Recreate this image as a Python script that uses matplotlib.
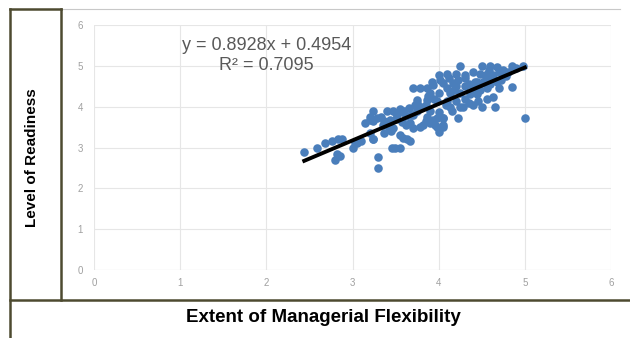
import numpy as np
import matplotlib.pyplot as plt
from matplotlib.lines import Line2D

# Extent of Managerial Flexibility (x) vs Level of Readiness (y)
flex = [2.44, 2.59, 2.68, 2.76, 2.83, 2.88, 2.82, 2.80, 2.86, 3.00, 3.05, 3.10,
        3.24, 3.24, 3.20, 3.30, 3.30, 3.24, 3.40, 3.47, 3.20, 3.28, 3.36, 3.43, 3.50,
        3.59, 3.65, 3.72, 3.03, 3.24, 3.36, 3.47, 3.55, 3.59, 3.46, 3.49, 3.67, 3.70,
        3.63, 3.67, 3.78, 3.55, 3.40, 3.33, 3.52, 3.58, 3.62, 3.45,
        4.00, 4.10, 4.20, 4.30, 4.40, 4.25, 3.70, 3.78, 3.86, 3.93, 4.05, 4.17,
        4.20, 4.30, 4.40, 3.90, 4.00, 4.13, 4.25, 4.36, 4.45, 3.75, 3.86, 3.98,
        4.10, 4.20, 4.30, 3.75, 3.90, 4.00, 4.13, 4.25, 3.86, 3.98, 4.05, 4.22,
        3.82, 3.96, 4.05, 4.00, 3.93, 4.05, 3.98, 4.05, 3.80, 3.85, 3.70, 3.75,
        3.88, 3.95, 4.08, 4.15, 4.35, 4.28, 4.18, 4.10, 3.92, 4.02, 4.12, 4.22,
        4.50, 4.60, 4.68, 4.85, 4.98, 4.75, 4.48, 4.56, 4.63, 4.44, 4.52, 4.60,
        4.68, 4.40, 4.48, 4.56, 4.85, 4.63, 4.56, 4.46, 4.50, 4.65, 5.00, 4.40,
        4.55, 4.70, 4.78, 4.90, 4.62, 4.72, 4.58, 4.42, 4.35, 4.30, 4.70, 4.80,
        3.60, 3.68, 3.75, 3.50, 3.55, 3.62, 3.85, 3.90, 3.35, 3.42, 3.15, 3.20]
ready = [2.90, 3.00, 3.10, 3.15, 3.20, 3.20, 2.85, 2.70, 2.80, 3.00, 3.10, 3.15,
         3.90, 3.65, 3.35, 2.77, 2.50, 3.20, 3.90, 3.90, 3.67, 3.72, 3.65, 3.68, 3.70,
         3.87, 3.97, 4.04, 3.10, 3.20, 3.35, 3.48, 3.30, 3.23, 3.00, 3.00, 3.60, 3.48,
         3.22, 3.17, 3.50, 3.00, 3.55, 3.75, 3.80, 3.62, 3.78, 3.40,
         4.78, 4.80, 4.80, 4.78, 4.85, 5.00, 4.45, 4.45, 4.45, 4.53, 4.58, 4.58,
         4.50, 4.50, 4.50, 4.33, 4.33, 4.33, 4.33, 4.30, 4.30, 4.16, 4.16, 4.15,
         4.15, 4.15, 4.20, 3.90, 3.90, 3.87, 4.00, 4.00, 3.75, 3.72, 3.72, 3.72,
         3.55, 3.55, 3.55, 3.38, 3.67, 3.72, 3.50, 3.50, 4.00, 4.05, 3.80, 4.10,
         4.25, 4.20, 4.05, 3.90, 4.10, 4.00, 4.40, 4.45, 4.60, 4.65, 4.70, 4.65,
         5.00, 5.00, 4.97, 5.00, 5.00, 4.90, 4.80, 4.80, 4.78, 4.60, 4.60, 4.55,
         4.60, 4.35, 4.40, 4.45, 4.48, 4.23, 4.20, 4.15, 4.00, 4.00, 3.72, 4.05,
         4.70, 4.85, 4.75, 4.95, 4.65, 4.65, 4.90, 4.60, 4.55, 4.70, 4.45, 4.85,
         3.90, 3.80, 3.95, 3.85, 3.95, 3.55, 3.65, 3.60, 3.55, 3.50, 3.60, 3.75]

slope, intercept = 0.8928, 0.4954
xticks = [0, 1, 2, 3, 4, 5, 6]
yticks = [0, 1, 2, 3, 4, 5, 6]

plt.rcParams['font.family'] = ['Liberation Sans', 'DejaVu Sans']

fig = plt.figure(figsize=(6.3, 3.38), dpi=100)
ax = fig.add_axes([94/630, 1 - 270/338, 517/630, 245/338])

ax.scatter(flex, ready, s=38, color='#4a7ebb', zorder=3, linewidths=0)
xl = np.array([min(flex), max(flex)])
ax.plot(xl, slope * xl + intercept, color='black', lw=2.8, zorder=4)

ax.set_xlim(0, 6)
ax.set_ylim(0, 6)
ax.set_xticks(xticks)
ax.set_yticks(yticks)
ax.tick_params(length=0, labelsize=7, labelcolor='#a0a0a0', pad=8)
ax.tick_params(axis='x', pad=6)
ax.grid(color='#e6e6e6', lw=0.8)
ax.set_axisbelow(True)
for s in ax.spines.values():
    s.set_visible(False)
ax.axhline(0, color='#d9d9d9', lw=0.8, zorder=1)

ax.text(2.0, 5.49, 'y = 0.8928x + 0.4954', ha='center', va='center',
        fontsize=13, color='#595959')
ax.text(2.0, 5.02, 'R² = 0.7095', ha='center', va='center',
        fontsize=13, color='#595959')

# frame boxes around the chart
W, H = 630, 338
def seg(x0, y0, x1, y1, c='#4d4a30', lw=1.8):
    fig.add_artist(Line2D([x0/W, x1/W], [1 - y0/H, 1 - y1/H], color=c, lw=lw))

seg(61, 9, 620, 9, c='#c8c8c8', lw=0.8)
seg(10, 9, 61, 9)
seg(10, 9, 10, 338)
seg(61, 9, 61, 300)
seg(10, 300, 630, 300)

fig.text(32/W, 1 - 158/H, 'Level of Readiness', rotation=90, ha='center',
         va='center', fontsize=11, fontweight='bold')
fig.text(323/W, 1 - 318/H, 'Extent of Managerial Flexibility', ha='center',
         va='center', fontsize=13.5, fontweight='bold')

fig.savefig('out.png', dpi=100)
